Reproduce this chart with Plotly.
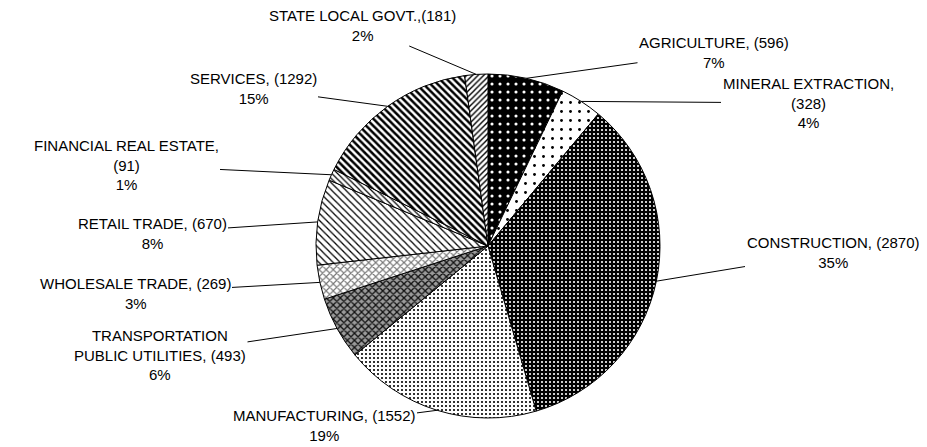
import math
import plotly.graph_objects as go

# employment by sector
sectors = ["AGRICULTURE", "MINERAL EXTRACTION", "CONSTRUCTION", "MANUFACTURING",
           "TRANSPORTATION PUBLIC UTILITIES", "WHOLESALE TRADE", "RETAIL TRADE",
           "FINANCIAL REAL ESTATE", "SERVICES", "STATE LOCAL GOVT."]
counts = [596, 328, 2870, 1552, 493, 269, 670, 91, 1292, 181]
pct_labels = ["7%", "4%", "35%", "19%", "6%", "3%", "8%", "1%", "15%", "2%"]
# how each sector name is broken in the label
name_text = ["AGRICULTURE, ", "MINERAL EXTRACTION,<br>", "CONSTRUCTION, ", "MANUFACTURING, ",
             "TRANSPORTATION<br>PUBLIC UTILITIES, ", "WHOLESALE TRADE, ", "RETAIL TRADE, ",
             "FINANCIAL REAL ESTATE,<br>", "SERVICES, ", "STATE LOCAL GOVT.,"]

W, H = 927, 447
CX, CY, R = 480, 238, 172          # pie centre / radius in px

# pattern fills (black & white hatching like the original)
shapes = [".", ".", ".", ".", "x", "x", "\\", "\\", "\\", "/"]
fg = ["white", "black", "white", "black", "#111111", "#777777", "black", "black", "black", "black"]
bg = ["black", "white", "black", "white", "#9a9a9a", "white", "white", "white", "white", "white"]
psize = [8, 9, 4, 4, 5, 5, 5, 4, 5, 4]
solid = [0.12, 0.08, 0.22, 0.22, 0.45, 0.4, 0.25, 0.3, 0.5, 0.35]

fig = go.Figure()
fig.add_trace(go.Pie(
    labels=sectors,
    values=counts,
    sort=False,
    direction="clockwise",
    rotation=0,
    textinfo="none",
    showlegend=False,
    domain=dict(x=[(CX - R) / W, (CX + R) / W], y=[1 - (CY + R) / H, 1 - (CY - R) / H]),
    marker=dict(
        colors=bg,
        line=dict(color="black", width=1),
        pattern=dict(shape=shapes, fgcolor=fg, bgcolor=bg, size=psize, solidity=solid),
    ),
))

# where each label block sits (px, centre of text)
label_pos = [(706, 44), (800, 95), (825, 244), (316, 417), (152, 347),
             (127, 285), (144, 225), (118, 157), (245, 80), (354, 18)]

total = sum(counts)
cum = 0
annotations = []
for i, v in enumerate(counts):
    mid = (cum + v / 2) / total
    cum += v
    ang = 2 * math.pi * mid
    tx = CX + R * math.sin(ang)
    ty = CY - R * math.cos(ang)
    lx, ly = label_pos[i]
    annotations.append(dict(
        x=tx / W, y=1 - ty / H, xref="paper", yref="paper",
        text=f"{name_text[i]}({v})<br>{pct_labels[i]}",
        showarrow=True, arrowhead=0, arrowwidth=1, arrowcolor="black",
        ax=lx - tx, ay=ly - ty, standoff=0,
        font=dict(family="Liberation Sans, Arial", size=15, color="black"),
        align="center",
    ))

fig.update_layout(
    width=W, height=H,
    margin=dict(l=0, r=0, t=0, b=0),
    paper_bgcolor="white",
    plot_bgcolor="white",
    annotations=annotations,
)

fig.write_html("out.html")
